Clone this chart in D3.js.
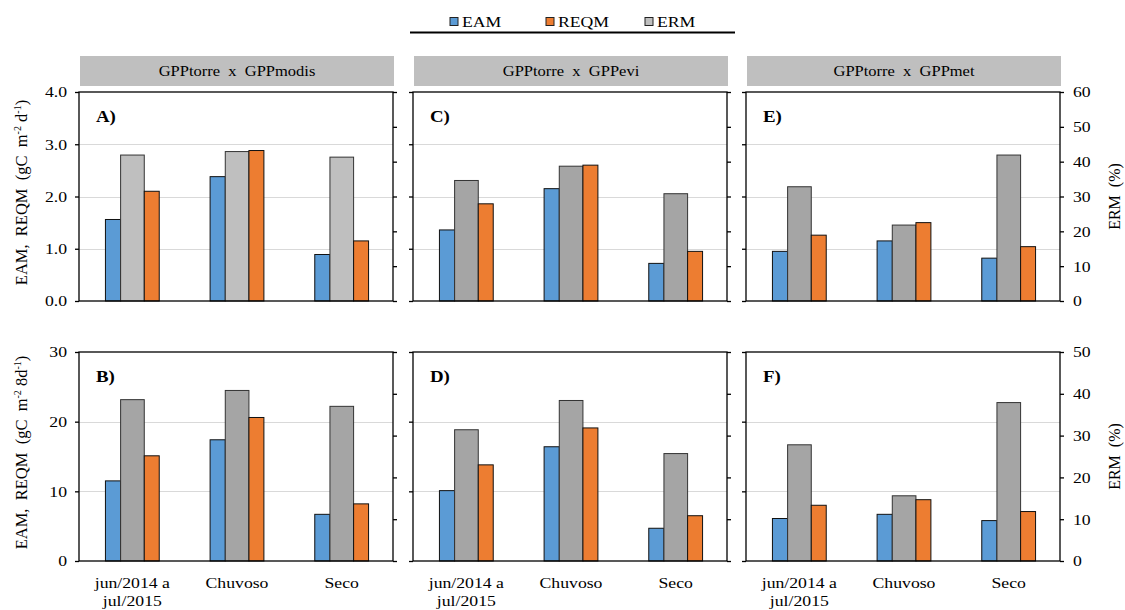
<!DOCTYPE html>
<html><head><meta charset="utf-8">
<script src="https://cdn.jsdelivr.net/npm/d3@7"></script>
<style>
body{margin:0;background:#fff;}
svg{display:block;font-family:"Liberation Serif","Times New Roman",serif;}
</style></head>
<body><svg id="c" width="1125" height="610"></svg>
<script>
// ---- data ----
const categories = [["jun/2014 a","jul/2015"],["Chuvoso"],["Seco"]];
const seriesNames = ["EAM","REQM","ERM"];
const headers = ["GPPtorre  x  GPPmodis","GPPtorre  x  GPPevi","GPPtorre  x  GPPmet"];
const panelLabels = [["A)","C)","E)"],["B)","D)","F)"]];
const leftTicksTop = [0,1,2,3,4];
const leftTicksBottom = [0,10,20,30];
const rightTicksTop = [0,10,20,30,40,50,60];
const rightTicksBottom = [0,10,20,30,40,50];
const leftTitleTop = "EAM,  REQM  (gC  m|-2| d|-1|)";
const leftTitleBottom = "EAM,  REQM  (gC  m|-2| 8d|-1|)";
const rightTitle = "ERM  (%)";

const eamA=[1.56,2.38,0.89], reqmA=[2.10,2.88,1.15], ermA=[41.9,42.9,41.3];
const eamC=[1.36,2.15,0.72], reqmC=[1.86,2.60,0.95], ermC=[34.6,38.7,30.8];
const eamE=[0.95,1.15,0.82], reqmE=[1.26,1.50,1.04], ermE=[32.8,21.8,41.9];
const eamB=[11.5,17.4,6.7], reqmB=[15.1,20.6,8.2], ermB=[38.6,40.8,37.0];
const eamD=[10.1,16.4,4.7], reqmD=[13.8,19.1,6.5], ermD=[31.4,38.4,25.7];
const eamF=[6.1,6.7,5.8], reqmF=[8.0,8.8,7.1], ermF=[27.8,15.6,37.9];

const panelData = [
  [{eam:eamA,reqm:reqmA,erm:ermA,light:true},{eam:eamC,reqm:reqmC,erm:ermC},{eam:eamE,reqm:reqmE,erm:ermE}],
  [{eam:eamB,reqm:reqmB,erm:ermB},{eam:eamD,reqm:reqmD,erm:ermD},{eam:eamF,reqm:reqmF,erm:ermF}]
];

// ---- layout ----
const colLeft=[79,413,746], W=314;
const rowTop=[92,352], H=209;
const SX=1.18;
const colEAM="#5b9bd5", colREQM="#ed7d31", colERM="#a5a5a5", colERMlight="#bfbfbf";

const svg=d3.select("#c");

function txt(g,x,y,str,opt={}){
  const t=g.append("text").attr("transform",`translate(${x},${y}) scale(${opt.sx||SX},1)`)
    .attr("text-anchor",opt.anchor||"start").attr("font-size",opt.size||15)
    .attr("font-weight",opt.weight||"normal").attr("fill","#000").style("white-space","pre");
  t.text(str);
  return t;
}

// legend
const legX=[450,546,645];
const legCols=[colEAM,colREQM,colERMlight];
seriesNames.forEach((n,i)=>{
  svg.append("rect").attr("x",legX[i]).attr("y",17.5).attr("width",8).attr("height",8)
    .attr("fill",legCols[i]).attr("stroke","#222").attr("stroke-width",1);
  txt(svg,legX[i]+12,26.5,n,{size:15});
});
svg.append("line").attr("x1",410).attr("x2",735).attr("y1",32.5).attr("y2",32.5)
  .attr("stroke","#000").attr("stroke-width",2);

// headers
headers.forEach((h,i)=>{
  svg.append("rect").attr("x",colLeft[i]+1).attr("y",56).attr("width",W).attr("height",30).attr("fill","#bfbfbf");
  txt(svg,colLeft[i]+1+W/2,76,h,{anchor:"middle",size:15,sx:1.1});
});

function rotTitle(x,yc,str){
  const t=svg.append("text").attr("transform",`translate(${x},${yc}) rotate(-90)`)
    .attr("text-anchor","middle").attr("font-size",16.5).style("white-space","pre");
  str.split("|").forEach((p,k)=>{
    const ts=t.append("tspan").text(p);
    if(k%2===1){ts.attr("font-size",10).attr("dy",-6);}
    else if(k>0){ts.attr("dy",6);}
  });
}

for(let r=0;r<2;r++){
  const y0=rowTop[r];
  const yP=d3.scaleLinear().domain(r===0?[0,4]:[0,30]).range([y0+H,y0]);
  const yS=d3.scaleLinear().domain(r===0?[0,60]:[0,50]).range([y0+H,y0]);
  const lt=r===0?leftTicksTop:leftTicksBottom;
  const rt=r===0?rightTicksTop:rightTicksBottom;
  for(let c=0;c<3;c++){
    const x0=colLeft[c];
    const d=panelData[r][c];
    const g=svg.append("g");
    const x=d3.scaleBand().domain(d3.range(categories.length)).range([x0,x0+W]).padding(0);
    const bw=x.bandwidth();
    // grid
    g.selectAll("line.grid").data(lt.filter(v=>v>0&&v<lt[lt.length-1])).enter().append("line")
      .attr("x1",x0).attr("x2",x0+W).attr("y1",v=>Math.round(yP(v))+0.5).attr("y2",v=>Math.round(yP(v))+0.5)
      .attr("stroke","#d9d9d9").attr("stroke-width",1.2);
    // bars
    const wE=bw*0.145, wM=bw*0.226, wR=bw*0.143;
    const gx=i=>x(i)+bw/2-(wE+wM+wR)/2+1;
    g.selectAll("rect.eam").data(d.eam).enter().append("rect")
      .attr("x",(v,i)=>gx(i)).attr("width",wE).attr("y",v=>yP(v)).attr("height",v=>yP(0)-yP(v))
      .attr("fill",colEAM).attr("stroke","#111").attr("stroke-width",1);
    g.selectAll("rect.erm").data(d.erm).enter().append("rect")
      .attr("x",(v,i)=>gx(i)+wE).attr("width",wM).attr("y",v=>yS(v)).attr("height",v=>yS(0)-yS(v))
      .attr("fill",d.light?colERMlight:colERM).attr("stroke","#333").attr("stroke-width",1);
    g.selectAll("rect.reqm").data(d.reqm).enter().append("rect")
      .attr("x",(v,i)=>gx(i)+wE+wM).attr("width",wR).attr("y",v=>yP(v)).attr("height",v=>yP(0)-yP(v))
      .attr("fill",colREQM).attr("stroke","#111").attr("stroke-width",1);
    // box
    g.append("rect").attr("x",x0).attr("y",y0).attr("width",W).attr("height",H)
      .attr("fill","none").attr("stroke","#000").attr("stroke-width",1.3);
    // left axis
    const la=d3.axisLeft(yP).tickValues(lt).tickSize(4).tickSizeOuter(0)
      .tickFormat(c===0?(r===0?d3.format(".1f"):d3.format("d")):()=> "");
    const lg=g.append("g").attr("transform",`translate(${x0},0)`).call(la);
    lg.select(".domain").remove();
    lg.selectAll(".tick line").attr("stroke","#000").attr("stroke-width",1.3);
    lg.selectAll(".tick text").attr("font-size",15).attr("font-family","Liberation Serif").attr("fill","#000")
      .attr("x",0).attr("dy","0.33em").attr("transform",`translate(-12,0) scale(${SX},1)`);
    // right axis
    const ra=d3.axisRight(yS).tickValues(rt).tickSize(4).tickSizeOuter(0)
      .tickFormat(c===2?d3.format("d"):()=>"");
    const rg=g.append("g").attr("transform",`translate(${x0+W},0)`).call(ra);
    rg.select(".domain").remove();
    rg.selectAll(".tick line").attr("stroke","#000").attr("stroke-width",1.3);
    rg.selectAll(".tick text").attr("font-size",15).attr("font-family","Liberation Serif").attr("fill","#000")
      .attr("x",0).attr("dy","0.33em").attr("transform",`translate(13,0) scale(${SX},1)`);
    // panel label
    txt(g,x0+17,y0+30,panelLabels[r][c],{size:16,weight:"bold"});
    // x labels (bottom row)
    if(r===1){
      categories.forEach((lines,i)=>{
        lines.forEach((ln,k)=>{
          txt(g,x(i)+bw/2+1,588+k*18,ln,{anchor:"middle",size:15});
        });
      });
    }
  }
  rotTitle(27,y0+H/2-4,r===0?leftTitleTop:leftTitleBottom);
  svg.append("text").attr("transform",`translate(1120,${y0+H/2}) rotate(-90)`)
    .attr("text-anchor","middle").attr("font-size",16).style("white-space","pre").text(rightTitle);
}
</script></body></html>
